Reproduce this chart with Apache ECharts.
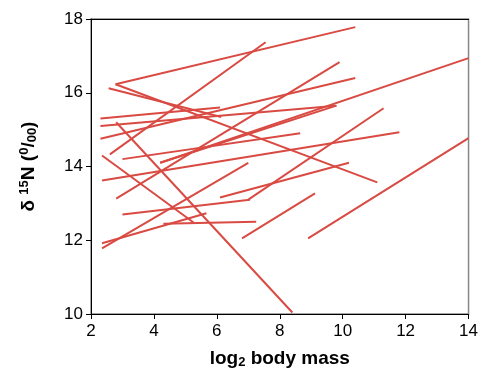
<!DOCTYPE html>
<html><head><meta charset="utf-8">
<script src="https://cdn.jsdelivr.net/npm/echarts@6/dist/echarts.min.js"></script>
<style>html,body{margin:0;padding:0;background:#fff}#c{width:481px;height:375px}</style>
</head><body><div id="c"></div>
<script>
const xStart = [2.78, 2.56, 2.78, 2.6, 2.8, 2.3, 4.2, 2.3, 2.3, 4.2, 3.0, 7.0, 2.35, 6.1, 8.9, 6.8, 2.8, 2.35, 3.0, 2.35, 2.35, 4.3];
const yStart = [16.23, 16.12, 16.23, 14.33, 13.13, 14.75, 14.1, 15.3, 15.1, 14.1, 14.2, 13.1, 13.62, 13.16, 12.05, 12.05, 15.2, 14.3, 12.7, 11.78, 11.92, 12.45];
const xEnd = [10.4, 6.14, 11.1, 7.55, 9.9, 10.4, 14.0, 6.1, 9.8, 9.8, 8.65, 11.3, 11.8, 10.2, 14.0, 9.12, 8.4, 5.26, 7.05, 7.0, 5.67, 7.25];
const yEnd = [17.78, 15.34, 13.57, 17.37, 16.83, 16.4, 16.94, 15.6, 15.65, 15.65, 14.9, 15.58, 14.93, 14.1, 14.77, 13.27, 10.04, 12.48, 13.1, 14.1, 12.73, 12.5];
const xTicks = [2, 4, 6, 8, 10, 12, 14];
const yTicks = [10, 12, 14, 16, 18];

const chart = echarts.init(document.getElementById('c'));
const series = xStart.map((x, i) => ({
  type: 'line', symbol: 'none', silent: true,
  lineStyle: {color: '#d94a43', width: 2},
  data: [[x, yStart[i]], [xEnd[i], yEnd[i]]]
}));
const font = 'Liberation Sans, Arial, Helvetica, sans-serif';
chart.setOption({
  animation: false,
  grid: {left: 91, right: 8, top: 19, bottom: 61, show: true, borderColor: '#888', borderWidth: 1.5},
  xAxis: [{
    type: 'value', min: xTicks[0], max: xTicks[xTicks.length-1], interval: 2,
    axisLine: {show: true, lineStyle: {color: '#000', width: 1}},
    axisTick: {show: true, length: 5, inside: false, lineStyle: {color: '#000'}},
    splitLine: {show: false},
    axisLabel: {color: '#000', fontSize: 17, fontFamily: font, margin: 9},
    name: '{a|log}{s|2}{a| body mass}', nameLocation: 'middle', nameGap: 34,
    nameTextStyle: {rich: {
      a: {fontSize: 19, fontWeight: 'bold', color: '#000', fontFamily: font},
      s: {fontSize: 13, fontWeight: 'bold', color: '#000', fontFamily: font, verticalAlign: 'bottom', padding: [8, 0, 0, 0]}
    }}
  }, {
    type: 'value', position: 'top', min: 2, max: 14,
    axisLine: {show: true, lineStyle: {color: '#000', width: 1}},
    axisTick: {show: false}, axisLabel: {show: false}, splitLine: {show: false}
  }],
  yAxis: {
    type: 'value', min: yTicks[0], max: yTicks[yTicks.length-1], interval: 2,
    axisLine: {show: true, lineStyle: {color: '#000', width: 1}},
    axisTick: {show: true, length: 5, lineStyle: {color: '#000'}},
    splitLine: {show: false},
    axisLabel: {color: '#000', fontSize: 17, fontFamily: font, margin: 8},
    name: '{a|δ }{p|15}{a|N (}{p|0}{a|/}{s|00}{a|)}', nameLocation: 'middle', nameGap: 52, nameRotate: 90,
    nameTextStyle: {rich: {
      a: {fontSize: 19, fontWeight: 'bold', color: '#000', fontFamily: font},
      p: {fontSize: 13, fontWeight: 'bold', color: '#000', fontFamily: font, padding: [0, 0, 8, 0]},
      s: {fontSize: 13, fontWeight: 'bold', color: '#000', fontFamily: font, padding: [8, 0, 0, 0]}
    }}
  },
  series: series
});
</script></body></html>
